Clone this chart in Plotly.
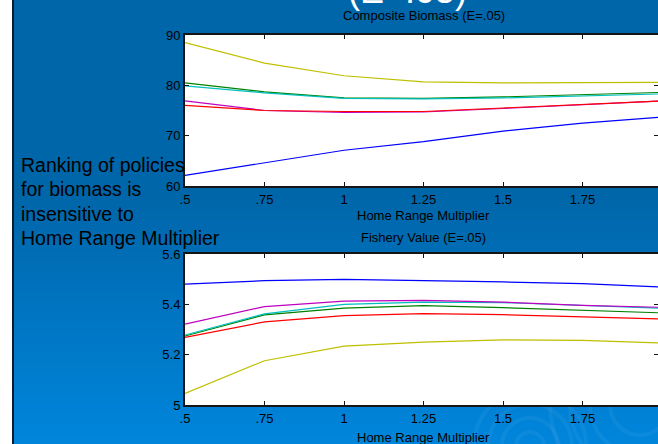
import plotly.graph_objects as go

# Home range multiplier values (x axis)
home_range = [0.5, 0.75, 1.0, 1.25, 1.5, 1.75, 2.0]
x_tick_vals = [0.5, 0.75, 1.0, 1.25, 1.5, 1.75, 2.0]
x_tick_text = [".5", ".75", "1", "1.25", "1.5", "1.75", "2"]

# Composite biomass per policy (E=.05)
biomass_yellow = [88.5, 84.4, 81.9, 80.7, 80.5, 80.5, 80.6]
biomass_green = [80.5, 78.7, 77.5, 77.4, 77.7, 78.1, 78.6]
biomass_cyan = [79.9, 78.5, 77.4, 77.3, 77.5, 77.9, 78.3]
biomass_magenta = [76.9, 75.0, 74.6, 74.7, 75.4, 76.2, 76.9]
biomass_red = [76.0, 75.0, 74.8, 74.8, 75.5, 76.2, 76.9]
biomass_blue = [62.1, 64.6, 67.1, 68.8, 70.9, 72.5, 73.7]
biomass_ticks = [60, 70, 80, 90]

# Fishery value per policy (E=.05)
fishery_blue = [5.480, 5.494, 5.499, 5.495, 5.489, 5.482, 5.469]
fishery_magenta = [5.321, 5.391, 5.413, 5.416, 5.409, 5.396, 5.388]
fishery_cyan = [5.278, 5.362, 5.400, 5.409, 5.407, 5.396, 5.384]
fishery_green = [5.274, 5.358, 5.385, 5.395, 5.387, 5.378, 5.366]
fishery_red = [5.269, 5.330, 5.355, 5.363, 5.359, 5.351, 5.342]
fishery_yellow = [5.046, 5.176, 5.234, 5.250, 5.259, 5.257, 5.246]
fishery_ticks = [5.0, 5.2, 5.4, 5.6]
fishery_tick_text = ["5", "5.2", "5.4", "5.6"]

W, H = 658, 444
FONT = "Liberation Sans, Arial, sans-serif"

C_BLUE = "#0000ff"
C_GREEN = "#008000"
C_RED = "#ff0000"
C_CYAN = "#00bfbf"
C_MAGENTA = "#bf00bf"
C_YELLOW = "#bfbf00"

fig = go.Figure()

biomass_series = [
    ("Policy A", biomass_yellow, C_YELLOW),
    ("Policy B", biomass_green, C_GREEN),
    ("Policy C", biomass_cyan, C_CYAN),
    ("Policy D", biomass_magenta, C_MAGENTA),
    ("Policy E", biomass_red, C_RED),
    ("Policy F", biomass_blue, C_BLUE),
]
fishery_series = [
    ("Policy A", fishery_yellow, C_YELLOW),
    ("Policy B", fishery_green, C_GREEN),
    ("Policy C", fishery_cyan, C_CYAN),
    ("Policy D", fishery_magenta, C_MAGENTA),
    ("Policy E", fishery_red, C_RED),
    ("Policy F", fishery_blue, C_BLUE),
]

for name, vals, col in biomass_series:
    fig.add_trace(go.Scatter(x=home_range, y=vals, mode="lines", name=name,
                             line=dict(color=col, width=1.2),
                             xaxis="x", yaxis="y", showlegend=False))
for name, vals, col in fishery_series:
    fig.add_trace(go.Scatter(x=home_range, y=vals, mode="lines", name=name,
                             line=dict(color=col, width=1.2),
                             xaxis="x2", yaxis="y2", showlegend=False))

def px_x(p):
    return p / W

def px_y(p):
    return 1 - p / H

# plot boxes (pixel positions in the slide)
left, right = 185, 662
top1, bot1 = 35, 186
top2, bot2 = 254, 405
x_visible_end = 0.5 + 1.5 * (W - left) / (right - left)

axis_common = dict(showgrid=False, zeroline=False, showline=True, automargin=False,
                   linecolor="#151515", linewidth=2, ticks="inside",
                   ticklen=4, tickcolor="#151515",
                   tickfont=dict(family=FONT, size=13, color="#000000"))

fig.update_layout(
    width=W, height=H, autosize=False,
    margin=dict(l=0, r=0, t=0, b=0, pad=0, autoexpand=False),
    paper_bgcolor="#0066aa", plot_bgcolor="#ffffff",
    xaxis=dict(domain=[px_x(left), 1], anchor="y", range=[0.5, x_visible_end],
               tickvals=x_tick_vals, ticktext=x_tick_text, mirror="allticks",
               **axis_common),
    yaxis=dict(domain=[px_y(bot1), px_y(top1)], anchor="x", range=[60, 90],
               tickvals=biomass_ticks, mirror="ticks", **axis_common),
    xaxis2=dict(domain=[px_x(left), 1], anchor="y2", range=[0.5, x_visible_end],
                tickvals=x_tick_vals, ticktext=x_tick_text, mirror="allticks",
                **axis_common),
    yaxis2=dict(domain=[px_y(bot2), px_y(top2)], anchor="x2", range=[5.0, 5.6],
                tickvals=fishery_ticks, ticktext=fishery_tick_text, mirror="ticks",
                **axis_common),
)

# slide background: white margin strip, dark rule, blue gradient toward the bottom
shapes = [
    dict(type="rect", xref="paper", yref="paper", x0=0, x1=px_x(12), y0=0, y1=1,
         fillcolor="#ffffff", line=dict(width=0), layer="below"),
    dict(type="rect", xref="paper", yref="paper", x0=px_x(12), x1=px_x(14), y0=0, y1=1,
         fillcolor="#0c1c2c", line=dict(width=0), layer="below"),
]
g_start, g_end = 200, H
n_steps = 24
c0 = (0, 102, 170)
c1 = (0, 134, 220)
for i in range(n_steps):
    ya = g_start + (g_end - g_start) * i / n_steps
    yb = g_start + (g_end - g_start) * (i + 1) / n_steps
    t = (i + 0.5) / n_steps
    col = tuple(round(c0[k] + (c1[k] - c0[k]) * t) for k in range(3))
    shapes.append(dict(type="rect", xref="paper", yref="paper",
                       x0=px_x(14), x1=1, y0=px_y(yb + 0.5), y1=px_y(ya),
                       fillcolor="rgb(%d,%d,%d)" % col, line=dict(width=0),
                       layer="below"))
# faint ripple rings in the lower part of the slide
for (rx, ry, radii) in [(530, 446, [14, 28, 42, 56]), (640, 405, [30, 50, 70, 90])]:
    for r in radii:
        shapes.append(dict(type="circle", xref="paper", yref="paper",
                           x0=px_x(rx - r), x1=px_x(rx + r),
                           y0=px_y(ry + r), y1=px_y(ry - r),
                           line=dict(color="rgba(120,190,240,0.10)", width=4),
                           fillcolor="rgba(0,0,0,0)", layer="below"))
# white plotting areas over the background
for (t_, b_) in [(top1, bot1), (top2, bot2)]:
    shapes.append(dict(type="rect", xref="paper", yref="paper",
                       x0=px_x(left), x1=1, y0=px_y(b_), y1=px_y(t_),
                       fillcolor="#ffffff", line=dict(width=0), layer="below"))
fig.update_layout(shapes=shapes)

cx = px_x((left + right) / 2)
annotations = [
    dict(text="(E=.05)", x=px_x(407), y=px_y(13), xref="paper", yref="paper",
         xanchor="center", yanchor="bottom", showarrow=False,
         font=dict(family=FONT, size=36, color="#ffffff")),
    dict(text="Composite Biomass (E=.05)", x=cx, y=px_y(16), xref="paper", yref="paper",
         xanchor="center", yanchor="middle", showarrow=False,
         font=dict(family=FONT, size=13, color="#000000")),
    dict(text="Home Range Multiplier", x=cx, y=px_y(215), xref="paper", yref="paper",
         xanchor="center", yanchor="middle", showarrow=False,
         font=dict(family=FONT, size=13, color="#000000")),
    dict(text="Fishery Value (E=.05)", x=cx, y=px_y(237), xref="paper", yref="paper",
         xanchor="center", yanchor="middle", showarrow=False,
         font=dict(family=FONT, size=13, color="#000000")),
    dict(text="Home Range Multiplier", x=cx, y=px_y(437), xref="paper", yref="paper",
         xanchor="center", yanchor="middle", showarrow=False,
         font=dict(family=FONT, size=13, color="#000000")),
]
note_lines = ["Ranking of policies", "for biomass is", "insensitive to",
              "Home Range Multiplier"]
note_y = [165, 189, 214, 238]
for line, yy in zip(note_lines, note_y):
    annotations.append(dict(text=line, x=px_x(19), y=px_y(yy), xref="paper", yref="paper",
                            xanchor="left", yanchor="middle", showarrow=False,
                            font=dict(family=FONT, size=19.5, color="#000000")))
fig.update_layout(annotations=annotations)

fig.write_html("out.html",
               post_script="document.body.style.margin='0';"
                           "document.body.style.overflow='hidden';")
